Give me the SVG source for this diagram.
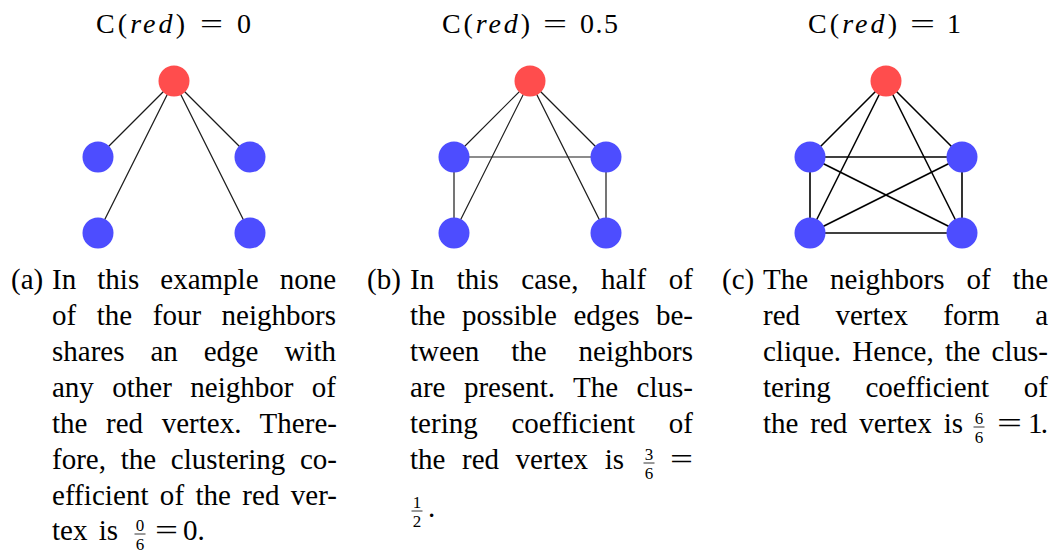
<svg xmlns="http://www.w3.org/2000/svg" width="1057" height="554" viewBox="0 0 1057 554">
<style>
.t{font-family:"Liberation Serif","Times New Roman",serif;font-size:29px;fill:#000}
.ti{font-family:"Liberation Serif","Times New Roman",serif;font-size:28px;fill:#000}
.it{font-style:italic}
.f{font-family:"Liberation Serif","Times New Roman",serif;font-size:17px;fill:#000;text-anchor:middle}
.bar{stroke:#000;stroke-width:0.8}
.red{fill:#FF4D4D}
.blue{fill:#4D4DFF}
.e{stroke:#1a1a1a;stroke-width:1.2;fill:none}
.e2{stroke:#000;stroke-width:1.6;fill:none}
</style>
<rect width="1057" height="554" fill="#fff"/>

<!-- Titles -->
<g id="title-a">
<text class="ti" x="96" y="33" textLength="89" lengthAdjust="spacing">C(<tspan class="it">red</tspan>)</text>
<text class="ti" x="200" y="33" textLength="23" lengthAdjust="spacingAndGlyphs">=</text>
<text class="ti" x="237" y="33">0</text>
</g>
<g id="title-b">
<text class="ti" x="442" y="33" textLength="88" lengthAdjust="spacing">C(<tspan class="it">red</tspan>)</text>
<text class="ti" x="543" y="33" textLength="24" lengthAdjust="spacingAndGlyphs">=</text>
<text class="ti" x="580" y="33" textLength="38" lengthAdjust="spacing">0.5</text>
</g>
<g id="title-c">
<text class="ti" x="808" y="33" textLength="89" lengthAdjust="spacing">C(<tspan class="it">red</tspan>)</text>
<text class="ti" x="910" y="33" textLength="25" lengthAdjust="spacingAndGlyphs">=</text>
<text class="ti" x="947" y="33">1</text>
</g>

<!-- Connectors -->
<g id="connectors">
<g id="edges-a" class="e">
<line x1="174" y1="81" x2="98" y2="157"/>
<line x1="174" y1="81" x2="98" y2="233"/>
<line x1="174" y1="81" x2="250" y2="157"/>
<line x1="174" y1="81" x2="250" y2="233"/>
</g>
<g id="edges-b" class="e">
<line x1="530" y1="81" x2="454" y2="157"/>
<line x1="530" y1="81" x2="454" y2="233"/>
<line x1="530" y1="81" x2="606" y2="157"/>
<line x1="530" y1="81" x2="606" y2="233"/>
<line x1="454" y1="157" x2="606" y2="157"/>
<line x1="454" y1="157" x2="454" y2="233"/>
<line x1="606" y1="157" x2="606" y2="233"/>
</g>
<g id="edges-c" class="e2">
<line x1="886" y1="81" x2="810" y2="157"/>
<line x1="886" y1="81" x2="810" y2="233"/>
<line x1="886" y1="81" x2="962" y2="157"/>
<line x1="886" y1="81" x2="962" y2="233"/>
<line x1="810" y1="157" x2="962" y2="157"/>
<line x1="810" y1="157" x2="810" y2="233"/>
<line x1="962" y1="157" x2="962" y2="233"/>
<line x1="810" y1="233" x2="962" y2="233"/>
<line x1="810" y1="157" x2="962" y2="233"/>
<line x1="962" y1="157" x2="810" y2="233"/>
</g>
</g>

<!-- Nodes -->
<g id="node-a-red"><circle class="red" cx="174" cy="81" r="15.5"/></g>
<g id="node-a-1"><circle class="blue" cx="98" cy="157" r="15.5"/></g>
<g id="node-a-2"><circle class="blue" cx="250" cy="157" r="15.5"/></g>
<g id="node-a-3"><circle class="blue" cx="98" cy="233" r="15.5"/></g>
<g id="node-a-4"><circle class="blue" cx="250" cy="233" r="15.5"/></g>

<g id="node-b-red"><circle class="red" cx="530" cy="81" r="15.5"/></g>
<g id="node-b-1"><circle class="blue" cx="454" cy="157" r="15.5"/></g>
<g id="node-b-2"><circle class="blue" cx="606" cy="157" r="15.5"/></g>
<g id="node-b-3"><circle class="blue" cx="454" cy="233" r="15.5"/></g>
<g id="node-b-4"><circle class="blue" cx="606" cy="233" r="15.5"/></g>

<g id="node-c-red"><circle class="red" cx="886" cy="81" r="15.5"/></g>
<g id="node-c-1"><circle class="blue" cx="810" cy="157" r="15.5"/></g>
<g id="node-c-2"><circle class="blue" cx="962" cy="157" r="15.5"/></g>
<g id="node-c-3"><circle class="blue" cx="810" cy="233" r="15.5"/></g>
<g id="node-c-4"><circle class="blue" cx="962" cy="233" r="15.5"/></g>

<!-- Caption a -->
<g id="caption-a">
<text class="t" x="11" y="289">(a)</text>
<text class="t" x="52" y="289" word-spacing="13.9" textLength="284" lengthAdjust="spacing">In this example none</text>
<text class="t" x="52" y="325" word-spacing="13.3" textLength="284" lengthAdjust="spacing">of the four neighbors</text>
<text class="t" x="52" y="361" word-spacing="18.7" textLength="284" lengthAdjust="spacing">shares an edge with</text>
<text class="t" x="52" y="397" word-spacing="11.2" textLength="284" lengthAdjust="spacing">any other neighbor of</text>
<text class="t" x="52" y="432.5" word-spacing="11.2" textLength="285" lengthAdjust="spacing">the red vertex. There-</text>
<text class="t" x="52" y="468.5" word-spacing="7.5" textLength="285" lengthAdjust="spacing">fore, the clustering co-</text>
<text class="t" x="52" y="504.5" word-spacing="4" textLength="285" lengthAdjust="spacing">efficient of the red ver-</text>
<text class="t" x="52" y="540" word-spacing="4" textLength="66" lengthAdjust="spacing">tex is</text>
<text class="f" x="140" y="531">0</text>
<line class="bar" x1="134.5" y1="534" x2="145.5" y2="534"/>
<text class="f" x="140" y="549.5">6</text>
<text class="t" x="155" y="540" textLength="23" lengthAdjust="spacingAndGlyphs">=</text>
<text class="t" x="183" y="540">0.</text>
</g>

<!-- Caption b -->
<g id="caption-b">
<text class="t" x="367" y="289">(b)</text>
<text class="t" x="410" y="289" word-spacing="15.4" textLength="283" lengthAdjust="spacing">In this case, half of</text>
<text class="t" x="410" y="325" word-spacing="9.2" textLength="283" lengthAdjust="spacing">the possible edges be-</text>
<text class="t" x="410" y="361" word-spacing="24.7" textLength="283" lengthAdjust="spacing">tween the neighbors</text>
<text class="t" x="410" y="397" word-spacing="11.1" textLength="283" lengthAdjust="spacing">are present. The clus-</text>
<text class="t" x="410" y="432.5" word-spacing="26.3" textLength="283" lengthAdjust="spacing">tering coefficient of</text>
<text class="t" x="410" y="469" word-spacing="9.3" textLength="214" lengthAdjust="spacing">the red vertex is</text>
<text class="f" x="649" y="460">3</text>
<line class="bar" x1="643.5" y1="463" x2="654.5" y2="463"/>
<text class="f" x="649" y="478.5">6</text>
<text class="t" x="670" y="469" textLength="23" lengthAdjust="spacingAndGlyphs">=</text>
<text class="f" x="417" y="508">1</text>
<line class="bar" x1="411.5" y1="511" x2="422.5" y2="511"/>
<text class="f" x="417" y="526.5">2</text>
<text class="t" x="428" y="517">.</text>
</g>

<!-- Caption c -->
<g id="caption-c">
<text class="t" x="722" y="289">(c)</text>
<text class="t" x="763" y="289" word-spacing="14.7" textLength="285" lengthAdjust="spacing">The neighbors of the</text>
<text class="t" x="763" y="325" word-spacing="28.2" textLength="285" lengthAdjust="spacing">red vertex form a</text>
<text class="t" x="763" y="361" word-spacing="4" textLength="285" lengthAdjust="spacing">clique. Hence, the clus-</text>
<text class="t" x="763" y="397" word-spacing="27.3" textLength="285" lengthAdjust="spacing">tering coefficient of</text>
<text class="t" x="763" y="432.5" word-spacing="4.7" textLength="200" lengthAdjust="spacing">the red vertex is</text>
<text class="f" x="979" y="424">6</text>
<line class="bar" x1="973.5" y1="427" x2="984.5" y2="427"/>
<text class="f" x="979" y="442.5">6</text>
<text class="t" x="997" y="432.5" textLength="25" lengthAdjust="spacingAndGlyphs">=</text>
<text class="t" x="1028" y="432.5" textLength="20" lengthAdjust="spacing">1.</text>
</g>
</svg>
